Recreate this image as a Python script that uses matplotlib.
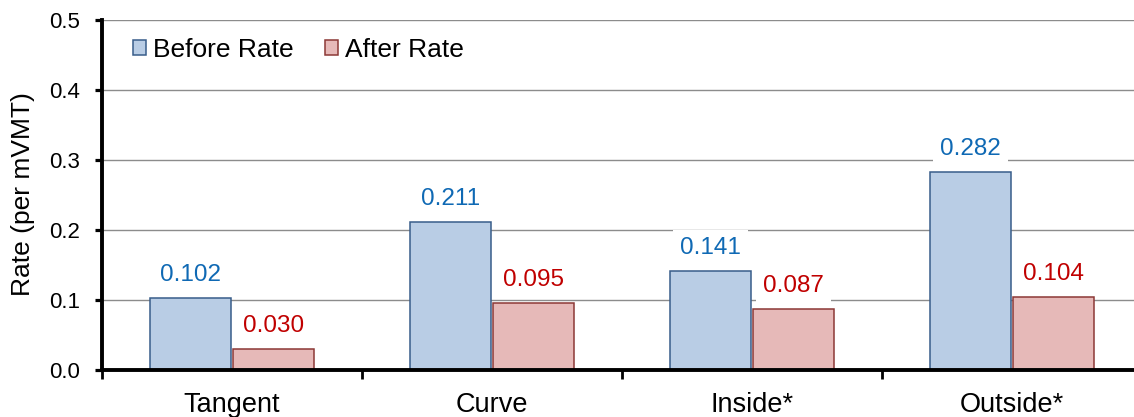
import numpy as np
import matplotlib
matplotlib.use("Agg")
import matplotlib.pyplot as plt
import matplotlib.patches as mpatches

# ── Styling ────────────────────────────────────────────────────────────────────
plt.rcParams.update({
    "font.family": ["Liberation Sans", "DejaVu Sans"],
    "figure.facecolor": "white",
    "axes.facecolor": "white",
})

BLUE_FILL = "#b9cde5"
BLUE_EDGE = "#385d8a"
RED_FILL  = "#e6b9b8"
RED_EDGE  = "#8c3836"
BLUE_TXT  = "#0f69b4"
RED_TXT   = "#c00000"
GRID      = "#8c8c8c"

# ── Data ───────────────────────────────────────────────────────────────────────
categories  = ["Tangent", "Curve", "Inside*", "Outside*"]
before_rate = [0.102, 0.211, 0.141, 0.282]
after_rate  = [0.030, 0.095, 0.087, 0.104]
y_ticks     = [0.0, 0.1, 0.2, 0.3, 0.4, 0.5]

# ── Figure ─────────────────────────────────────────────────────────────────────
fig = plt.figure(figsize=(11.34, 4.17), dpi=100)
ax = fig.add_axes([102 / 1134, 47.5 / 417, 1040 / 1134, 350 / 417])

x = np.arange(len(categories))
w = 0.31
off = 0.16

ax.yaxis.grid(True, color=GRID, linewidth=1.0, zorder=0)
ax.set_axisbelow(True)

b1 = ax.bar(x - off, before_rate, w, color=BLUE_FILL, edgecolor=BLUE_EDGE,
            linewidth=1.1, zorder=2, label="Before Rate")
b2 = ax.bar(x + off, after_rate, w, color=RED_FILL, edgecolor=RED_EDGE,
            linewidth=1.1, zorder=2, label="After Rate")

# value labels with white boxes (they knock out the gridlines)
for bars, vals, col in [(b1, before_rate, BLUE_TXT), (b2, after_rate, RED_TXT)]:
    for bar, v in zip(bars, vals):
        ax.annotate(f"{v:.3f}", xy=(bar.get_x() + bar.get_width() / 2, v),
                    xytext=(0, 12.2), textcoords="offset points",
                    ha="center", va="baseline", fontsize=17.5, color=col,
                    zorder=4,
                    bbox=dict(boxstyle="square,pad=0.3", fc="white", ec="none"))

# ── Axes ───────────────────────────────────────────────────────────────────────
ax.set_xlim(-0.5, len(categories) - 0.5)
ax.set_ylim(0, 0.5)
ax.set_yticks(y_ticks)
ax.set_yticklabels([f"{t:.1f}" for t in y_ticks])
ax.set_xticks(x)
ax.set_xticklabels(categories)
ax.set_xticks(np.arange(-0.5, len(categories)), minor=True)

for s in ["top", "right"]:
    ax.spines[s].set_visible(False)
for s in ["left", "bottom"]:
    ax.spines[s].set_linewidth(2.8)
    ax.spines[s].set_color("black")
    ax.spines[s].set_zorder(3)

ax.tick_params(axis="y", direction="out", length=5, width=2.3, pad=11,
               labelsize=16, colors="black")
ax.tick_params(axis="x", which="major", length=0, pad=16, labelsize=19.5)
ax.tick_params(axis="x", which="minor", direction="out", length=6.5, width=2.0)

ax.set_ylabel("Rate (per mVMT)", fontsize=19, labelpad=10)

# ── Legend ─────────────────────────────────────────────────────────────────────
handles = [
    mpatches.Patch(facecolor=BLUE_FILL, edgecolor=BLUE_EDGE, linewidth=1.1, label="Before Rate"),
    mpatches.Patch(facecolor=RED_FILL, edgecolor=RED_EDGE, linewidth=1.1, label="After Rate"),
]
ax.legend(handles=handles, loc="center left", bbox_to_anchor=(0.03, 0.913),
          ncol=2, frameon=False, fontsize=19, handlelength=0.5, handleheight=0.5,
          handletextpad=0.25, columnspacing=1.2, borderpad=0, borderaxespad=0)

fig.savefig("out.png", dpi=100)
